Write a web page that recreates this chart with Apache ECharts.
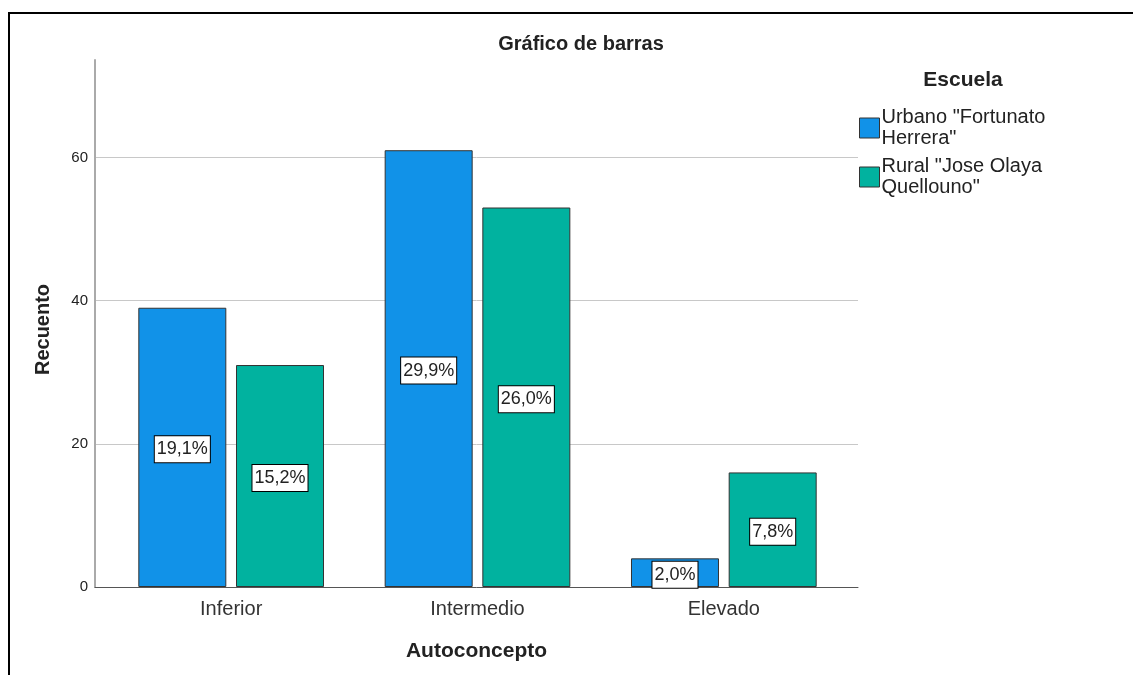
<!DOCTYPE html>
<html>
<head>
<meta charset="utf-8">
<script src="https://cdn.jsdelivr.net/npm/echarts@6/dist/echarts.min.js"></script>
<style>
  html, body { margin: 0; padding: 0; background: #fff; }
  #chart { width: 1133px; height: 675px; }
</style>
</head>
<body>
<div id="chart"></div>
<script>
// datos
const categories = ['Inferior', 'Intermedio', 'Elevado']
const seriesNames = ['Urbano "Fortunato Herrera"', 'Rural "Jose Olaya Quellouno"']
const urbano = [39, 61, 4]
const rural = [31, 53, 16]
const yTicks = [0, 20, 40, 60]

const total = urbano.concat(rural).reduce((a, b) => a + b, 0)
const pct = (v) => (v / total * 100).toFixed(1).replace('.', ',') + '%'

const colors = ['#1192E8', '#01B29F']
const yMax = 73.6

const chart = echarts.init(document.getElementById('chart'))

const labelBox = {
  show: true,
  position: 'inside',
  offset: [0, 2],
  formatter: (p) => pct(p.value),
  backgroundColor: '#fff',
  borderColor: '#000',
  borderWidth: 1,
  padding: [4, 2],
  fontFamily: 'Liberation Sans',
  fontSize: 18,
  color: '#222',
}

let option = {
  animation: false,
  color: colors,
  textStyle: { fontFamily: 'Liberation Sans' },
  title: [
    {
      text: 'Gráfico de barras',
      left: 576,
      top: 29,
      textAlign: 'center',
      textStyle: { fontSize: 20, fontWeight: 'bold', color: '#222' },
    },
    {
      text: 'Escuela',
      left: 958,
      top: 65,
      textAlign: 'center',
      textStyle: { fontSize: 21, fontWeight: 'bold', color: '#222' },
    },
  ],
  legend: {
    orient: 'vertical',
    left: 854,
    top: 101,
    icon: 'rect',
    itemWidth: 20,
    itemHeight: 20,
    itemGap: 5,
    itemStyle: { borderColor: '#333', borderWidth: 1 },
    textStyle: { fontSize: 20, lineHeight: 21, color: '#222', padding: [2, 0, 0, -3] },
    // corta el nombre en el ultimo espacio
    formatter: (name) => {
      const i = name.lastIndexOf(' ')
      return name.slice(0, i) + '\n' + name.slice(i + 1)
    },
  },
  grid: [
    { left: 95, top: 60, width: 763, height: 527 },
    { left: 108, top: 60, width: 739, height: 527 },
  ],
  xAxis: [
    {
      gridIndex: 0,
      type: 'category',
      data: categories,
      axisLine: { lineStyle: { color: '#555', width: 1 } },
      axisTick: { show: false },
      axisLabel: { show: false },
      name: 'Autoconcepto',
      nameLocation: 'middle',
      nameGap: 54,
      nameTextStyle: { fontSize: 21, fontWeight: 'bold', color: '#222' },
    },
    {
      gridIndex: 1,
      type: 'category',
      data: categories,
      axisLine: { show: false },
      axisTick: { show: false },
      axisLabel: { fontSize: 20, color: '#333', margin: 12 },
    },
  ],
  yAxis: [
    {
      gridIndex: 0,
      type: 'value',
      min: yTicks[0],
      max: yMax,
      interval: yTicks[1] - yTicks[0],
      axisLine: { show: true, lineStyle: { color: '#aaa', width: 2 } },
      axisTick: { show: false },
      axisLabel: { fontSize: 15, color: '#222', margin: 7, showMaxLabel: false },
      splitLine: { showMaxLine: false, lineStyle: { color: '#c8c8c8', width: 1 } },
      name: 'Recuento',
      nameLocation: 'middle',
      nameGap: 42,
      nameTextStyle: { fontSize: 20, fontWeight: 'bold', color: '#222', padding: [0, 12, 0, 0] },
    },
    {
      gridIndex: 1,
      type: 'value',
      min: 0,
      max: yMax,
      show: false,
      splitLine: { show: false },
    },
  ],
  series: [
    {
      name: seriesNames[0],
      type: 'bar',
      xAxisIndex: 1,
      yAxisIndex: 1,
      data: urbano,
      barWidth: 88,
      barGap: '11%',
      itemStyle: { borderColor: '#333', borderWidth: 1 },
      label: labelBox,
    },
    {
      name: seriesNames[1],
      type: 'bar',
      xAxisIndex: 1,
      yAxisIndex: 1,
      data: rural,
      barWidth: 88,
      barGap: '11%',
      itemStyle: { borderColor: '#333', borderWidth: 1 },
      label: labelBox,
    },
  ],
  // marco negro del visor
  graphic: [
    {
      type: 'rect',
      shape: { x: 9, y: 13, width: 1200, height: 700 },
      style: { fill: null, stroke: '#000', lineWidth: 2 },
      silent: true,
    },
  ],
}

chart.setOption(option)
</script>
</body>
</html>
